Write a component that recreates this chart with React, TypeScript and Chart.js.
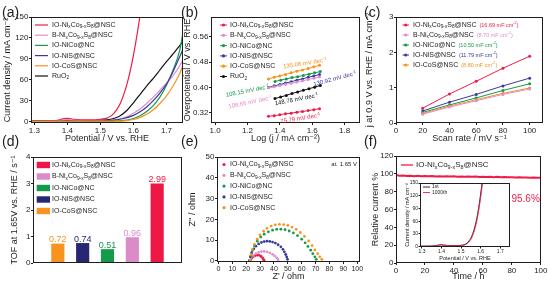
import React, { useEffect, useRef } from "react";
import { Chart, registerables } from "chart.js";

Chart.register(...registerables);

const FAMILY = "'Liberation Sans', 'DejaVu Sans', Arial, sans-serif";
const INK = "#1e1e1e";
const RED = "#ee1c48";
const PINK = "#dc8fcd";
const GREEN = "#15994b";
const BLUE = "#3a3a9c";
const ORANGE = "#f7931e";
const BLACK = "#111111";
const NAVY = "#262673";

// ---------------- names ----------------
const SAMPLE_NAMES = ["IO-Ni_xCo_{9-x}S_8@NSC", "B-Ni_xCo_{9-x}S_8@NSC", "IO-NiCo@NC", "IO-NiS@NSC", "IO-CoS@NSC"];
const RUO2_NAME = "RuO_2";

// ---------------- (a) LSV ----------------
const LSV_NICOS_V = [1.29, 1.32, 1.35, 1.37, 1.38, 1.39, 1.4, 1.41, 1.42, 1.44, 1.47, 1.5, 1.52, 1.53, 1.54, 1.55, 1.56, 1.57, 1.58, 1.59, 1.6, 1.61, 1.62];
const LSV_NICOS_J = [1.2, 1.2, 1.3, 1.8, 3.0, 4.3, 4.6, 4.0, 3.2, 2.6, 2.6, 3.4, 5.0, 7.5, 11.5, 17.5, 26, 38, 53, 72, 95, 122, 152];
const LSV_B_V = [1.29, 1.37, 1.39, 1.4, 1.42, 1.46, 1.52, 1.55, 1.58, 1.6, 1.62, 1.64, 1.66, 1.68, 1.7, 1.72, 1.74, 1.75];
const LSV_B_J = [0.8, 1.0, 2.5, 3.0, 2.0, 1.2, 1.5, 3, 7, 12, 18, 26, 35, 45, 55, 66, 80, 89];
const LSV_NICO_V = [1.29, 1.54, 1.58, 1.6, 1.62, 1.64, 1.66, 1.68, 1.7, 1.72, 1.74, 1.75];
const LSV_NICO_J = [0.5, 0.8, 2, 4.5, 8.5, 14.5, 23, 35, 52, 74, 102, 128];
const LSV_NIS_V = [1.29, 1.5, 1.54, 1.57, 1.6, 1.62, 1.64, 1.66, 1.68, 1.7, 1.72, 1.74, 1.75];
const LSV_NIS_J = [0.6, 0.9, 2, 4.5, 9, 14, 21, 30, 41, 54, 72, 93, 104];
const LSV_COS_V = [1.29, 1.55, 1.58, 1.6, 1.62, 1.64, 1.66, 1.68, 1.7, 1.72, 1.74, 1.75];
const LSV_COS_J = [0.4, 0.6, 1.5, 3, 6, 10.5, 17, 26, 37, 51, 69, 81];
const LSV_RUO2_V = [1.29, 1.4, 1.48, 1.52, 1.54, 1.56, 1.58, 1.6, 1.62, 1.64, 1.66, 1.68, 1.7, 1.72, 1.74, 1.75];
const LSV_RUO2_J = [0.8, 1.0, 1.3, 2.5, 4.5, 8.5, 16, 27, 39, 51, 62, 74, 86, 97, 109, 115];

// ---------------- (b) Tafel ----------------
const TAFEL_X_LONG = [1.33, 1.365, 1.4, 1.435, 1.47, 1.505, 1.54, 1.575, 1.61, 1.645];
const TAFEL_X_SHORT = [1.37, 1.405, 1.44, 1.475, 1.51, 1.545, 1.58, 1.615, 1.65];
const TAFEL_NICOS = [0.309, 0.311, 0.314, 0.317, 0.319, 0.322, 0.324, 0.327, 0.33, 0.333];
const TAFEL_B = [0.399, 0.402, 0.406, 0.41, 0.413, 0.417, 0.421, 0.425, 0.429, 0.433];
const TAFEL_NICO = [0.419, 0.423, 0.427, 0.431, 0.434, 0.438, 0.442, 0.446, 0.45];
const TAFEL_NIS = [0.4, 0.405, 0.409, 0.414, 0.418, 0.423, 0.427, 0.432, 0.436, 0.441];
const TAFEL_COS = [0.427, 0.432, 0.436, 0.441, 0.446, 0.451, 0.455, 0.46, 0.465, 0.47];
const TAFEL_RUO2 = [0.365, 0.37, 0.375, 0.381, 0.386, 0.391, 0.396, 0.401, 0.406];
const TAFEL_SLOPES = [75.79, 108.66, 108.15, 130.92, 135.06, 148.78];

// ---------------- (c) Cdl ----------------
const SCAN_RATES = [20, 40, 60, 80, 100];
const CDL_NICOS = [0.42, 0.82, 1.18, 1.55, 1.89];
const CDL_B = [0.25, 0.45, 0.63, 0.81, 0.96];
const CDL_NICO = [0.3, 0.51, 0.71, 0.92, 1.11];
const CDL_NIS = [0.34, 0.59, 0.81, 1.05, 1.27];
const CDL_COS = [0.27, 0.48, 0.66, 0.84, 0.99];
const CDL_VALUES = [16.69, 8.7, 10.5, 11.79, 8.8];

// ---------------- (d) TOF ----------------
const TOF_POS = [1, 2, 3, 4, 5];
const TOF_VALUES = [0.72, 0.74, 0.51, 0.96, 2.99];

// ---------------- (e) EIS ----------------
const EIS_NICOS_X = [23.0, 23.8, 25.0, 26.5, 28.0, 29.5, 30.8, 31.8, 32.5, 33.0];
const EIS_NICOS_Y = [0.2, 1.2, 2.0, 2.6, 2.8, 2.7, 2.2, 1.5, 0.7, 0.2];
const EIS_B_X = [22.5, 23.5, 25.0, 27.0, 29.0, 31.0, 33.0, 35.0, 37.0, 39.0, 40.5, 42.0, 43.0];
const EIS_B_Y = [0.3, 1.5, 2.6, 3.5, 4.1, 4.5, 4.6, 4.4, 3.9, 3.2, 2.4, 1.5, 0.6];
const EIS_NIS_X = [22.5, 23.0, 24.0, 25.5, 27.0, 29.0, 31.0, 33.0, 35.0, 37.0, 39.0, 41.0, 43.0, 45.0, 46.5, 47.5, 48.5, 49.2, 49.8];
const EIS_NIS_Y = [0.3, 2.0, 4.0, 5.8, 7.1, 8.2, 8.9, 9.3, 9.5, 9.4, 9.1, 8.6, 7.8, 6.8, 5.6, 4.4, 3.1, 1.9, 0.8];
const EIS_NICO_X = [23, 23.5, 24.5, 26, 28, 30.5, 33, 36, 39, 42, 45, 48, 51, 54, 57, 60, 62.5, 64.5, 66.5, 68, 69.5, 70.5];
const EIS_NICO_Y = [0.3, 2.5, 5, 7.3, 9.5, 11.5, 12.9, 14, 14.8, 15.2, 15.3, 15.0, 14.4, 13.5, 12.2, 10.5, 8.7, 7, 5.2, 3.5, 2, 0.8];
const EIS_COS_X = [23, 23.5, 24.5, 26, 28, 30, 32.5, 35, 38, 41, 44, 47, 50, 53, 56, 59, 62, 65, 67.5, 69.5, 71.5, 73, 74.5];
const EIS_COS_Y = [0.5, 3, 5.5, 8, 10.5, 12.5, 14.3, 15.7, 16.8, 17.4, 17.6, 17.5, 17.1, 16.3, 15.2, 13.7, 11.8, 9.6, 7.4, 5.3, 3.5, 2, 0.8];

// ---------------- (f) stability ----------------
const STAB_TIME = [0, 2.5, 5, 7.5, 10, 12.5, 15, 17.5, 20, 22.5, 25, 27.5, 30, 32.5, 35, 37.5, 40, 42.5, 45, 47.5, 50, 52.5, 55, 57.5, 60, 62.5, 65, 67.5, 70, 72.5, 75, 77.5, 80, 82.5, 85, 87.5, 90, 92.5, 95, 97.5, 100];
const STAB_CURRENT = [98.6, 97.9, 98.2, 97.6, 97.9, 97.4, 97.8, 97.3, 97.6, 97.2, 97.5, 97.1, 97.4, 97.0, 97.3, 96.9, 97.2, 96.8, 97.1, 96.7, 97.0, 96.6, 96.9, 96.5, 96.8, 96.4, 96.7, 96.3, 96.6, 96.2, 96.5, 96.1, 96.3, 95.9, 96.2, 95.8, 96.0, 95.7, 95.9, 95.6, 95.6];
const RETENTION_TEXT = "95.6%";
const INSET_V = [1.29, 1.32, 1.35, 1.37, 1.38, 1.39, 1.4, 1.41, 1.43, 1.46, 1.49, 1.51, 1.52, 1.53, 1.54, 1.55, 1.56, 1.57, 1.58, 1.59, 1.6, 1.61];
const INSET_J_1ST = [1.0, 1.0, 1.2, 2.0, 3.2, 4.2, 4.4, 3.6, 2.6, 2.2, 2.6, 3.6, 5.0, 8.0, 13, 20, 31, 46, 66, 92, 124, 160];
const INSET_J_1000 = [0.8, 0.8, 1.0, 1.6, 2.6, 3.6, 3.8, 3.2, 2.3, 1.9, 2.2, 3.0, 4.2, 6.6, 11, 17, 27, 41, 60, 85, 116, 152];
const INSET_NAMES = ["1st", "1000th"];

// ---------------- helpers ----------------
type Seg = { t: string; k: "n" | "sub" | "sup" };
function parseRich(text: string): Seg[] {
  const segs: Seg[] = [];
  let i = 0;
  while (i < text.length) {
    const c = text[i];
    if (c === "_" || c === "^") {
      const k = c === "_" ? "sub" : "sup";
      if (text[i + 1] === "{") {
        const e = text.indexOf("}", i);
        segs.push({ t: text.slice(i + 2, e), k });
        i = e + 1;
      } else {
        segs.push({ t: text[i + 1], k });
        i += 2;
      }
    } else {
      let j = i;
      while (j < text.length && text[j] !== "_" && text[j] !== "^") j++;
      segs.push({ t: text.slice(i, j), k: "n" });
      i = j;
    }
  }
  return segs;
}

function drawRich(ctx: CanvasRenderingContext2D, text: string, x: number, y: number, size: number, color: string, align = "left") {
  const segs = parseRich(text);
  const fs = (s: Seg) => `${s.k === "n" ? size : size * 0.68}px ${FAMILY}`;
  let total = 0;
  const widths = segs.map((s) => {
    ctx.font = fs(s);
    const w = ctx.measureText(s.t).width;
    total += w;
    return w;
  });
  let cx = align === "left" ? x : align === "right" ? x - total : x - total / 2;
  ctx.save();
  ctx.fillStyle = color;
  ctx.textAlign = "left";
  ctx.textBaseline = "middle";
  segs.forEach((s, i) => {
    ctx.font = fs(s);
    const dy = s.k === "sub" ? size * 0.3 : s.k === "sup" ? -size * 0.32 : 0;
    ctx.fillText(s.t, cx, y + dy);
    cx += widths[i];
  });
  ctx.restore();
  return total;
}

type LegendItem = { label: string; color: string; textColor?: string; extra?: { text: string; color: string; size: number } };
type LegendCfg = { kind: "line" | "linedot" | "dot" | "square"; x0: number; x1: number; tx: number; y0: number; dy: number; size: number; items: LegendItem[]; lw?: number };

function drawLegend(ctx: CanvasRenderingContext2D, ox: number, oy: number, cfg: LegendCfg) {
  cfg.items.forEach((it, i) => {
    const y = oy + cfg.y0 + i * cfg.dy;
    const x0 = ox + cfg.x0;
    const x1 = ox + cfg.x1;
    ctx.save();
    ctx.strokeStyle = it.color;
    ctx.fillStyle = it.color;
    ctx.lineWidth = cfg.lw ?? 1.2;
    if (cfg.kind === "line" || cfg.kind === "linedot") {
      ctx.beginPath();
      ctx.moveTo(x0, y);
      ctx.lineTo(x1, y);
      ctx.stroke();
    }
    if (cfg.kind === "linedot" || cfg.kind === "dot") {
      ctx.beginPath();
      ctx.arc((x0 + x1) / 2, y, 1.6, 0, Math.PI * 2);
      ctx.fill();
    }
    if (cfg.kind === "square") {
      ctx.fillRect(x0, y - 3.2, x1 - x0, 6.4);
    }
    ctx.restore();
    const w = drawRich(ctx, it.label, ox + cfg.tx, y, cfg.size, it.textColor ?? INK);
    if (it.extra) drawRich(ctx, it.extra.text, ox + cfg.tx + w + 3, y, it.extra.size, it.extra.color);
  });
}

const series = (xs: number[], ys: number[]) => xs.map((x, i) => ({ x, y: ys[i] }));
const curve = (xs: number[], ys: number[], color: string, width = 1.2) => ({
  data: series(xs, ys),
  showLine: true,
  borderColor: color,
  backgroundColor: color,
  borderWidth: width,
  pointRadius: 0,
  cubicInterpolationMode: "monotone",
});
const lineDots = (xs: number[], ys: number[], color: string) => ({
  data: series(xs, ys),
  showLine: true,
  borderColor: color,
  backgroundColor: color,
  borderWidth: 1,
  pointRadius: 1.5,
  pointBorderWidth: 0,
});
const dots = (xs: number[], ys: number[], color: string) => ({
  data: series(xs, ys),
  showLine: false,
  backgroundColor: color,
  borderColor: color,
  pointRadius: 1.4,
  pointBorderWidth: 0,
});

type AxisSpec = { min: number; max: number; step?: number; title?: string; titleSize?: number; tickSize?: number; hidden?: boolean; fmt?: (v: number) => string };
type PanelSpec = {
  key: string;
  canvas: { x: number; y: number; w: number; h: number };
  frame: { l: number; t: number; r: number; b: number };
  type: "scatter" | "bar";
  datasets: any[];
  x: AxisSpec;
  y: AxisSpec;
  yTitleC?: number;
  xTitleC?: number;
  tickLen?: number;
  tickPad?: number;
  overlay?: (chart: any, ctx: CanvasRenderingContext2D) => void;
};

function scaleOptions(isX: boolean, ax: AxisSpec, fixed: number, titlePad: number, tickLen: number, tickPad: number) {
  const show = !ax.hidden;
  const ticks: any = {
    display: show,
    stepSize: ax.step,
    includeBounds: false,
    padding: tickPad,
    color: INK,
    autoSkip: false,
    maxRotation: 0,
    minRotation: 0,
    font: { family: FAMILY, size: ax.tickSize ?? 8 },
  };
  if (ax.fmt) ticks.callback = (v: any) => ax.fmt!(Number(v));
  const tsize = ax.titleSize ?? 9;
  return {
    type: "linear",
    position: isX ? "bottom" : "left",
    min: ax.min,
    max: ax.max,
    offset: false,
    afterFit: (s: any) => {
      if (isX) s.height = fixed;
      else s.width = fixed;
    },
    border: { display: false },
    grid: { display: show, offset: false, drawOnChartArea: false, drawTicks: true, tickLength: tickLen, color: INK, lineWidth: 1 },
    ticks,
    title: ax.title
      ? {
          display: true,
          text: ax.title,
          color: INK,
          font: { family: FAMILY, size: tsize },
          padding: isX ? { top: 0, bottom: Math.max(0, titlePad) } : { top: Math.max(0, titlePad), bottom: 0 },
        }
      : { display: false },
  };
}

function buildConfig(s: PanelSpec): any {
  const c = s.canvas;
  const f = s.frame;
  const yWidth = f.l - c.x;
  const xHeight = c.y + c.h - f.b;
  const padTop = f.t - c.y;
  const padRight = c.x + c.w - f.r;
  const yT = (s.y.titleSize ?? 9) * 1.2;
  const xT = (s.x.titleSize ?? 9) * 1.2;
  const yTitlePad = s.yTitleC !== undefined ? s.yTitleC - c.x - yT / 2 : 0;
  const xTitlePad = s.xTitleC !== undefined ? c.y + c.h - s.xTitleC - xT / 2 : 0;
  const tickLen = s.tickLen ?? 2;
  const tickPad = s.tickPad ?? 0.5;
  return {
    type: s.type,
    data: { datasets: s.datasets },
    options: {
      responsive: false,
      maintainAspectRatio: false,
      animation: false,
      events: [],
      devicePixelRatio: 1,
      layout: { padding: { top: padTop, right: padRight, left: 0, bottom: 0 } },
      plugins: { legend: { display: false }, tooltip: { enabled: false }, title: { display: false } },
      scales: {
        x: scaleOptions(true, s.x, xHeight, xTitlePad, tickLen, tickPad),
        y: scaleOptions(false, s.y, yWidth, yTitlePad, tickLen, tickPad),
      },
    },
    plugins: [
      {
        id: "frameOverlay",
        afterDatasetsDraw(chart: any) {
          const a = chart.chartArea;
          const ctx = chart.ctx;
          ctx.save();
          ctx.strokeStyle = INK;
          ctx.lineWidth = 1;
          const l = Math.round(a.left);
          const t = Math.round(a.top);
          ctx.strokeRect(l + 0.5, t + 0.5, Math.round(a.right) - l - 1, Math.round(a.bottom) - t - 1);
          ctx.restore();
        },
        afterDraw(chart: any) {
          if (s.overlay) s.overlay(chart, chart.ctx);
        },
      },
    ],
  };
}

function ChartPanel({ spec }: { spec: PanelSpec }) {
  const ref = useRef<HTMLCanvasElement>(null);
  useEffect(() => {
    const chart = new Chart(ref.current as HTMLCanvasElement, buildConfig(spec));
    return () => chart.destroy();
  }, []);
  const c = spec.canvas;
  return (
    <canvas
      ref={ref}
      width={c.w}
      height={c.h}
      style={{ position: "absolute", left: c.x, top: c.y, width: c.w, height: c.h }}
    />
  );
}

const SAMPLE_COLORS = [RED, PINK, GREEN, BLUE, ORANGE];
const TOF_COLORS = [ORANGE, NAVY, GREEN, "#d98cc7", "#ef1745"];
const TOF_LEGEND_COLORS = ["#ef1745", "#d98cc7", GREEN, NAVY, ORANGE];

const rotText = (chart: any, ctx: CanvasRenderingContext2D, text: string, x: number, y: number, deg: number, color: string, size: number) => {
  const px = chart.scales.x.getPixelForValue(x);
  const py = chart.scales.y.getPixelForValue(y);
  ctx.save();
  ctx.translate(px, py);
  ctx.rotate((deg * Math.PI) / 180);
  drawRich(ctx, text, 0, 0, size, color, "center");
  ctx.restore();
};

const PANELS: PanelSpec[] = [
  {
    key: "a",
    canvas: { x: 0, y: 0, w: 190, h: 150 },
    frame: { l: 31, t: 17, r: 183, b: 123 },
    type: "scatter",
    datasets: [
      curve(LSV_COS_V, LSV_COS_J, ORANGE),
      curve(LSV_NIS_V, LSV_NIS_J, BLUE),
      curve(LSV_B_V, LSV_B_J, PINK),
      curve(LSV_NICO_V, LSV_NICO_J, GREEN),
      curve(LSV_RUO2_V, LSV_RUO2_J, BLACK),
      curve(LSV_NICOS_V, LSV_NICOS_J, RED),
    ],
    x: { min: 1.29, max: 1.75, step: 0.1, title: "Potential / V vs. RHE" },
    y: { min: -2, max: 150, step: 30, title: "Current density / mA cm⁻²" },
    yTitleC: 8,
    xTitleC: 139,
    overlay: (chart, ctx) => {
      const a = chart.chartArea;
      drawLegend(ctx, a.left, a.top, {
        kind: "line", x0: 4, x1: 17, tx: 21, y0: 8, dy: 10.2, size: 7,
        items: [...SAMPLE_NAMES.map((n, i) => ({ label: n, color: SAMPLE_COLORS[i] })), { label: RUO2_NAME, color: BLACK }],
      });
    },
  },
  {
    key: "b",
    canvas: { x: 181, y: 0, w: 184, h: 150 },
    frame: { l: 211, t: 17, r: 360, b: 123 },
    type: "scatter",
    datasets: [
      lineDots(TAFEL_X_LONG, TAFEL_NICOS, RED),
      lineDots(TAFEL_X_LONG, TAFEL_B, PINK),
      lineDots(TAFEL_X_SHORT, TAFEL_NICO, GREEN),
      lineDots(TAFEL_X_LONG, TAFEL_NIS, BLUE),
      lineDots(TAFEL_X_LONG, TAFEL_COS, ORANGE),
      lineDots(TAFEL_X_SHORT, TAFEL_RUO2, BLACK),
    ],
    x: { min: 0.975, max: 1.895, step: 0.2, title: "Log (j / mA cm⁻²)", fmt: (v) => v.toFixed(1) },
    y: { min: 0.288, max: 0.622, step: 0.08, title: "Overpotential / V vs. RHE", fmt: (v) => v.toFixed(2) },
    yTitleC: 188,
    xTitleC: 139,
    overlay: (chart, ctx) => {
      const a = chart.chartArea;
      drawLegend(ctx, a.left, a.top, {
        kind: "linedot", x0: 9, x1: 16, tx: 19, y0: 8, dy: 10.3, size: 7, lw: 1,
        items: [...SAMPLE_NAMES.map((n, i) => ({ label: n, color: SAMPLE_COLORS[i] })), { label: RUO2_NAME, color: BLACK }],
      });
      const t = (v: number) => `${v.toFixed(2)} mV dec^{-1}`;
      rotText(chart, ctx, t(TAFEL_SLOPES[0]), 1.527, 0.302, -9, RED, 6);
      rotText(chart, ctx, t(TAFEL_SLOPES[1]), 1.216, 0.353, -12, PINK, 6);
      rotText(chart, ctx, t(TAFEL_SLOPES[2]), 1.2, 0.389, -11, GREEN, 6);
      rotText(chart, ctx, t(TAFEL_SLOPES[3]), 1.74, 0.427, -15, BLUE, 6);
      rotText(chart, ctx, t(TAFEL_SLOPES[4]), 1.555, 0.4755, -9, ORANGE, 6);
      rotText(chart, ctx, t(TAFEL_SLOPES[5]), 1.503, 0.362, -11, BLACK, 6);
    },
  },
  {
    key: "c",
    canvas: { x: 363, y: 0, w: 185, h: 150 },
    frame: { l: 396, t: 17, r: 543, b: 123 },
    type: "scatter",
    datasets: [
      lineDots(SCAN_RATES, CDL_B, PINK),
      lineDots(SCAN_RATES, CDL_COS, ORANGE),
      lineDots(SCAN_RATES, CDL_NICO, GREEN),
      lineDots(SCAN_RATES, CDL_NIS, BLUE),
      lineDots(SCAN_RATES, CDL_NICOS, RED),
    ],
    x: { min: 0, max: 110, step: 20, title: "Scan rate / mV s⁻¹" },
    y: { min: 0, max: 3, step: 1, title: "j at 0.9 V vs. RHE / mA cm⁻²" },
    yTitleC: 370,
    xTitleC: 139,
    overlay: (chart, ctx) => {
      const a = chart.chartArea;
      drawLegend(ctx, a.left, a.top, {
        kind: "linedot", x0: 6.5, x1: 13, tx: 17, y0: 8, dy: 10, size: 7, lw: 1,
        items: SAMPLE_NAMES.map((n, i) => ({
          label: n,
          color: SAMPLE_COLORS[i],
          extra: { text: `(${CDL_VALUES[i].toFixed(2)} mF cm^{-2})`, color: SAMPLE_COLORS[i], size: 5.5 },
        })),
      });
    },
  },
  {
    key: "d",
    canvas: { x: 0, y: 145, w: 190, h: 140 },
    frame: { l: 33, t: 157, r: 182, b: 263 },
    type: "bar",
    datasets: [
      {
        data: TOF_POS.map((x, i) => ({ x, y: TOF_VALUES[i] })),
        backgroundColor: TOF_COLORS,
        borderWidth: 0,
        barThickness: 12.5,
      },
    ],
    x: { min: 0, max: 6, step: 1, hidden: true },
    y: { min: 0, max: 4, step: 1, title: "TOF at 1.65V vs. RHE / s⁻¹" },
    yTitleC: 15,
    overlay: (chart, ctx) => {
      const a = chart.chartArea;
      drawLegend(ctx, a.left, a.top, {
        kind: "square", x0: 3.7, x1: 17, tx: 19, y0: 8, dy: 11.5, size: 7,
        items: SAMPLE_NAMES.map((n, i) => ({ label: n, color: TOF_LEGEND_COLORS[i] })),
      });
      const meta = chart.getDatasetMeta(0);
      meta.data.forEach((el: any, i: number) => {
        ctx.save();
        ctx.font = `9px ${FAMILY}`;
        ctx.fillStyle = TOF_COLORS[i];
        ctx.textAlign = "center";
        ctx.textBaseline = "alphabetic";
        ctx.fillText(TOF_VALUES[i].toFixed(2), el.x, el.y - 1.5);
        ctx.restore();
      });
    },
  },
  {
    key: "e",
    canvas: { x: 181, y: 145, w: 187, h: 140 },
    frame: { l: 217, t: 157, r: 360, b: 262 },
    type: "scatter",
    datasets: [
      dots(EIS_COS_X, EIS_COS_Y, ORANGE),
      dots(EIS_NICO_X, EIS_NICO_Y, GREEN),
      dots(EIS_NIS_X, EIS_NIS_Y, BLUE),
      dots(EIS_B_X, EIS_B_Y, PINK),
      dots(EIS_NICOS_X, EIS_NICOS_Y, RED),
    ],
    x: { min: -1, max: 102, step: 10, title: "Z' / ohm", tickSize: 7 },
    y: { min: -0.5, max: 50, step: 10, title: "Z'' / ohm" },
    yTitleC: 193,
    xTitleC: 276.5,
    overlay: (chart, ctx) => {
      const a = chart.chartArea;
      drawLegend(ctx, a.left, a.top, {
        kind: "dot", x0: 5, x1: 9, tx: 13, y0: 7.5, dy: 10.8, size: 7,
        items: SAMPLE_NAMES.map((n, i) => ({ label: n, color: SAMPLE_COLORS[i] })),
      });
      drawRich(ctx, "at. 1.65 V", a.right - 3, a.top + 7, 6, INK, "right");
    },
  },
  {
    key: "f",
    canvas: { x: 363, y: 145, w: 185, h: 140 },
    frame: { l: 396, t: 156, r: 541, b: 263 },
    type: "scatter",
    datasets: [
      {
        data: series(STAB_TIME, STAB_CURRENT),
        showLine: true,
        borderColor: RED,
        backgroundColor: RED,
        borderWidth: 2,
        pointRadius: 0,
      },
    ],
    x: { min: 0, max: 100, step: 20, title: "Time / h" },
    y: { min: 0, max: 120, step: 20, title: "Relative current %" },
    yTitleC: 376,
    xTitleC: 277,
    overlay: (chart, ctx) => {
      const a = chart.chartArea;
      drawLegend(ctx, a.left, a.top, {
        kind: "line", x0: 5, x1: 17, tx: 20, y0: 9, dy: 10, size: 8, lw: 1.3,
        items: [{ label: SAMPLE_NAMES[0], color: RED }],
      });
      drawRich(ctx, RETENTION_TEXT, a.right - 1, a.top + 43, 10, RED, "right");
    },
  },
  {
    key: "inset",
    canvas: { x: 400, y: 178, w: 118, h: 88 },
    frame: { l: 420, t: 183, r: 510, b: 247 },
    type: "scatter",
    datasets: [curve(INSET_V, INSET_J_1000, RED, 0.9), curve(INSET_V, INSET_J_1ST, BLACK, 0.9)],
    x: { min: 1.29, max: 1.75, step: 0.1, title: "Potential / V vs. RHE", tickSize: 5, titleSize: 5.5 },
    y: { min: -1, max: 150, step: 30, title: "Current density / mA cm⁻²", tickSize: 5, titleSize: 5.5 },
    yTitleC: 407,
    xTitleC: 258.5,
    tickLen: 1.5,
    tickPad: 0.5,
    overlay: (chart, ctx) => {
      const a = chart.chartArea;
      drawLegend(ctx, a.left, a.top, {
        kind: "line", x0: 3, x1: 10, tx: 12, y0: 4, dy: 5.5, size: 5, lw: 0.9,
        items: [
          { label: INSET_NAMES[0], color: BLACK },
          { label: INSET_NAMES[1], color: RED },
        ],
      });
    },
  },
];

const PANEL_LABELS = [
  { t: "(a)", x: 2, y: 5 },
  { t: "(b)", x: 181, y: 5 },
  { t: "(c)", x: 364, y: 5 },
  { t: "(d)", x: 2, y: 134 },
  { t: "(e)", x: 181, y: 134 },
  { t: "(f)", x: 364, y: 134 },
];

export default function App() {
  return (
    <div
      style={{
        position: "fixed",
        left: 0,
        top: 0,
        width: 548,
        height: 285,
        background: "#ffffff",
        overflow: "hidden",
        fontFamily: FAMILY,
      }}
    >
      {PANELS.map((p) => (
        <ChartPanel key={p.key} spec={p} />
      ))}
      {PANEL_LABELS.map((l) => (
        <div
          key={l.t}
          style={{ position: "absolute", left: l.x, top: l.y, fontSize: 14, lineHeight: "14px", color: INK, whiteSpace: "nowrap" }}
        >
          {l.t}
        </div>
      ))}
    </div>
  );
}
